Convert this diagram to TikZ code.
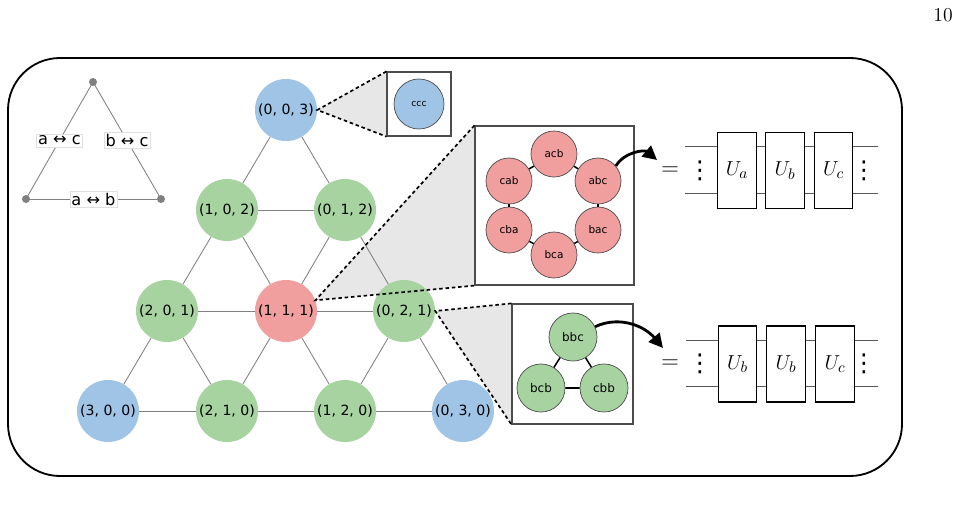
\documentclass[tikz,border=0pt]{standalone}
\usepackage{fontspec}
\newfontfamily\dejavu{DejaVu Sans}
\usetikzlibrary{arrows.meta,backgrounds}

\definecolor{siteblue}{RGB}{159,196,229}
\definecolor{sitegreen}{RGB}{166,211,160}
\definecolor{sitered}{RGB}{240,158,158}
\definecolor{zoomgray}{RGB}{231,231,231}

\tikzset{
  site/.style={circle, minimum size=1.55cm, inner sep=0pt, font=\dejavu\fontsize{10}{12}\selectfont},
  perm/.style={circle, draw=black!70, line width=0.5pt, minimum size=1.15cm, inner sep=0pt, font=\dejavu\fontsize{7.5}{9}\selectfont},
  zoombox/.style={draw=black!70, line width=0.8pt, fill=white, inner sep=0pt},
  zoomline/.style={line width=1.2pt, dash pattern=on 2.5pt off 2pt},
  latt/.style={draw=black!50, line width=0.6pt},
  vdot/.style={circle, fill=black!50, minimum size=0.2cm, inner sep=0pt},
  swaplbl/.style={fill=white, draw=black!12, line width=0.3pt, inner sep=1.2pt, font=\dejavu\fontsize{11.5}{13}\selectfont},
  gate/.style={draw, line width=0.8pt, fill=white, minimum width=0.96cm, minimum height=1.9cm, inner sep=0pt, font=\fontsize{15}{17}\selectfont},
  wire/.style={draw=black!65, line width=0.6pt},
  ellip/.style={inner sep=0pt, font=\dejavu\fontsize{17.5}{20}\selectfont},
  bigarrow/.style={line width=2pt, -{Triangle[length=10pt,width=10pt]}},
}

\begin{document}
\begin{tikzpicture}[x=0.025cm,y=-0.025cm]
\useasboundingbox (0,0) rectangle (959,506);
\node[font=\fontsize{14}{16}\selectfont] (pagenum) at (943,15) {10};
\draw[line width=1.3pt, rounded corners=1.3cm] (8,58) rectangle (902,476);

% swap triangle
\node[vdot] (tc) at (93,82) {};
\node[vdot] (tl) at (26,199) {};
\node[vdot] (tr) at (161,199) {};
\draw[latt] (tc.center) -- node[swaplbl]{a ↔ c} (tl.center);
\draw[latt] (tc.center) -- node[swaplbl]{b ↔ c} (tr.center);
\draw[latt] (tl.center) -- node[swaplbl]{a ↔ b} (tr.center);

% lattice of weights
\node[site, fill=siteblue] (n003) at (286,110) {(0, 0, 3)};
\node[site, fill=sitegreen] (n102) at (227,210) {(1, 0, 2)};
\node[site, fill=sitegreen] (n012) at (345,210) {(0, 1, 2)};
\node[site, fill=sitegreen] (n201) at (167,311) {(2, 0, 1)};
\node[site, fill=sitered] (n111) at (286,311) {(1, 1, 1)};
\node[site, fill=sitegreen] (n021) at (404,311) {(0, 2, 1)};
\node[site, fill=siteblue] (n300) at (108,411) {(3, 0, 0)};
\node[site, fill=sitegreen] (n210) at (227,411) {(2, 1, 0)};
\node[site, fill=sitegreen] (n120) at (345,411) {(1, 2, 0)};
\node[site, fill=siteblue] (n030) at (463,411) {(0, 3, 0)};
\foreach \a/\b in {n003/n102,n003/n012,n102/n012,n102/n201,n102/n111,n012/n111,n012/n021,
  n201/n111,n111/n021,n201/n300,n201/n210,n111/n210,n111/n120,n021/n120,n021/n030,
  n300/n210,n210/n120,n120/n030}
  \draw[latt] (\a) -- (\b);

% zoom boxes
\node[zoombox, minimum width=1.6cm, minimum height=1.6cm] (zccc) at (419,104) {};
\node[zoombox, minimum width=3.975cm, minimum height=3.975cm] (zhex) at (554.5,205.5) {};
\node[zoombox, minimum width=3.025cm, minimum height=3cm] (zbbc) at (572.5,364) {};

\begin{scope}[on background layer]
\fill[zoomgray] (n003.east) -- (zccc.north west) -- (zccc.south west) -- cycle;
\fill[zoomgray] (n111.20) -- (zhex.north west) -- (zhex.south west) -- cycle;
\fill[zoomgray] (n021.east) -- (zbbc.north west) -- (zbbc.south west) -- cycle;
\end{scope}
\draw[zoomline] (zccc.north west) -- (n003.east) -- (zccc.south west);
\draw[zoomline] (zhex.north west) -- (n111.20) -- (zhex.south west);
\draw[zoomline] (zbbc.north west) -- (n021.east) -- (zbbc.south west);

\node[perm, fill=siteblue, minimum size=1.25cm, font=\dejavu\fontsize{6.5}{8}\selectfont] (ccc) at (419,104) {ccc};

\node[perm, fill=sitered] (acb) at (554,154) {acb};
\node[perm, fill=sitered] (abc) at (598,181) {abc};
\node[perm, fill=sitered] (bac) at (598,230) {bac};
\node[perm, fill=sitered] (bca) at (554,255) {bca};
\node[perm, fill=sitered] (cba) at (509,230) {cba};
\node[perm, fill=sitered] (cab) at (509,181) {cab};
\foreach \a/\b in {acb/abc,abc/bac,bac/bca,bca/cba,cba/cab,cab/acb}
  \draw[line width=1.1pt] (\a) -- (\b);

\node[perm, fill=sitegreen, minimum size=1.2cm, font=\dejavu\fontsize{8.5}{10}\selectfont] (bbc) at (573,337) {bbc};
\node[perm, fill=sitegreen, minimum size=1.2cm, font=\dejavu\fontsize{8.5}{10}\selectfont] (bcb) at (541,388) {bcb};
\node[perm, fill=sitegreen, minimum size=1.2cm, font=\dejavu\fontsize{8.5}{10}\selectfont] (cbb) at (604,388) {cbb};
\draw[line width=1.1pt] (bbc) -- (bcb) -- (cbb) -- (bbc);

% circuits
\coordinate (tipA) at (657,160);
\coordinate (tipB) at (663,348);
\draw[bigarrow] (abc.40) to[out=60,in=140] (tipA);
\draw[bigarrow] (bbc.25) to[out=25,in=130] (tipB);

\node[font=\fontsize{17}{19}\selectfont] (eqA) at (670,171) {$=$};
\coordinate (a1l) at (685,146); \coordinate (a1r) at (878,146);
\coordinate (a2l) at (685,193); \coordinate (a2r) at (878,193);
\draw[wire] (a1l) -- (a1r);
\draw[wire] (a2l) -- (a2r);
\node[gate] (ga1) at (737,170.5) {$U_a$};
\node[gate] (ga2) at (785,170.5) {$U_b$};
\node[gate] (ga3) at (833.5,170.5) {$U_c$};
\node[ellip] (dA1) at (700,171) {⋮};
\node[ellip] (dA2) at (864,171) {⋮};

\node[font=\fontsize{17}{19}\selectfont] (eqB) at (670,364) {$=$};
\coordinate (b1l) at (686,340); \coordinate (b1r) at (878,340);
\coordinate (b2l) at (686,386); \coordinate (b2r) at (878,386);
\draw[wire] (b1l) -- (b1r);
\draw[wire] (b2l) -- (b2r);
\node[gate] (gb1) at (737.5,364) {$U_b$};
\node[gate] (gb2) at (786,364) {$U_b$};
\node[gate] (gb3) at (835,364) {$U_c$};
\node[ellip] (dB1) at (700,364) {⋮};
\node[ellip] (dB2) at (864,364) {⋮};
\end{tikzpicture}
\end{document}
